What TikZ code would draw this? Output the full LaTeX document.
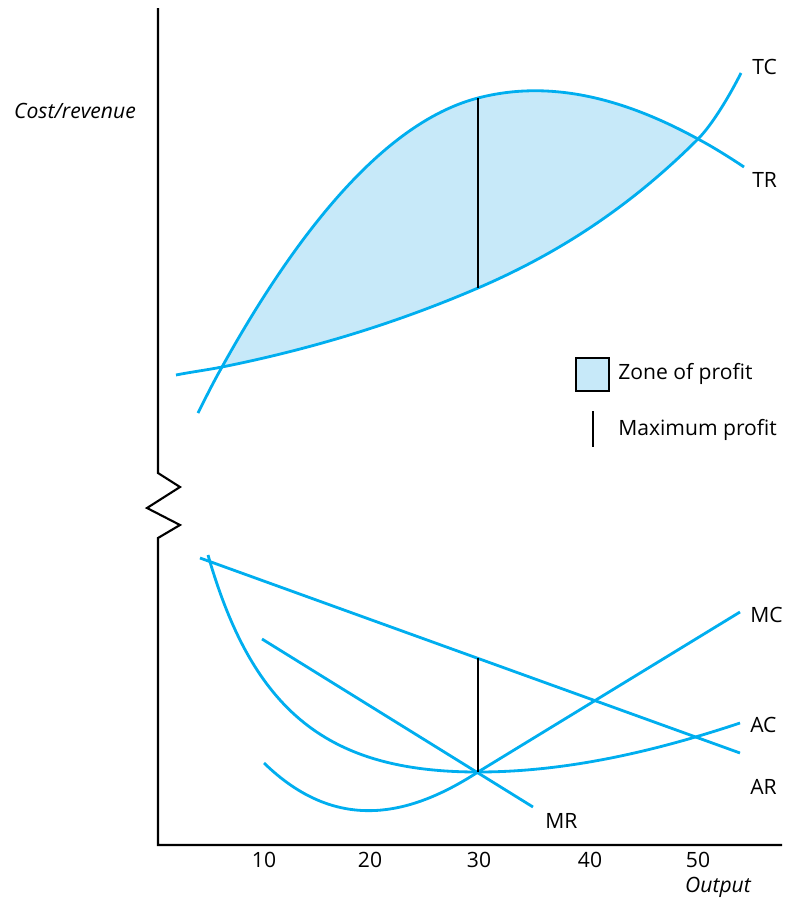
\documentclass[tikz,border=0pt]{standalone}
\usepackage{fontspec}
\setmainfont{Open Sans}
\usetikzlibrary{positioning}

\definecolor{curveblue}{RGB}{0,174,239}
\definecolor{zonefill}{RGB}{199,233,249}

\begin{document}
\begin{tikzpicture}[x=0.025cm, y=-0.025cm,
                curve/.style={draw=curveblue, line width=2pt},
                maxline/.style={draw=black, line width=2pt},
                axis/.style={draw=black, line width=1.5pt, line join=miter},
                lbl/.style={anchor=west, inner sep=0pt, font=\fontsize{15}{18}\selectfont},
                ticklbl/.style={inner sep=0pt, font=\fontsize{15}{18}\selectfont},
                axlbl/.style={inner sep=0pt, font=\fontsize{15}{18}\selectfont\itshape}
                ]
  \useasboundingbox (0,0) rectangle (785,901);

  % axes with the break
  \coordinate (ytop) at (158,8);
  \coordinate (o) at (158,845);
  \coordinate (xend) at (782,845);
  \draw[axis] (ytop) -- (158,473) -- (180,487) -- (147,508) -- (180,525) -- (158,538) -- (o) -- (xend);

  % upper panel: TR and TC
  \coordinate (p1) at (222,367);
  \coordinate (p2) at (698,139);
  \coordinate (m)  at (478,98);
  \coordinate (q)  at (478,288);

  \fill[zonefill] (p1) .. controls (307,214) and (393,120) .. (m)
                       .. controls (551,79) and (625,99) .. (p2)
                       .. controls (625,212) and (551,256.6) .. (q)
                       .. controls (393,324.6) and (307,350) .. (p1) -- cycle;

  \draw[curve] (198,413) .. controls (206,397) and (214,381) .. (p1)
               .. controls (307,214) and (393,120) .. (m)
               .. controls (551,79) and (625,99) .. (p2)
               .. controls (713,147) and (729,157) .. (744,167);
  \draw[curve] (176,375) .. controls (191,372) and (207,370) .. (p1)
               .. controls (307,350) and (393,324.6) .. (q)
               .. controls (551,256.6) and (625,212) .. (p2)
               .. controls (713,124) and (731,93) .. (741,73);
  \draw[maxline] (m) -- (q);

  \node[lbl] (tc) at (752,67) {TC};
  \node[lbl] (tr) at (752,180) {TR};

  % legend
  \node[draw=black, line width=1.5pt, fill=zonefill, minimum size=33*0.025cm, inner sep=0pt] (zbox) at (592.5,374.5) {};
  \node[lbl] (zlbl) at (618,374) {Zone of profit};
  \coordinate (mtop) at (593,411);
  \coordinate (mbot) at (593,447);
  \draw[maxline] (mtop) -- (mbot);
  \node[lbl] (mlbl) at (618,430) {Maximum profit};

  % lower panel
  \coordinate (k) at (478,772);
  \coordinate (arend) at (740,753);
  \coordinate (mrend) at (533,807);
  \coordinate (mcend) at (740,612);
  \draw[curve] (200,558) -- (arend);
  \draw[curve] (262,639) -- (mrend);
  \draw[curve] (264,763) .. controls (335,832) and (407,818) .. (k) -- (mcend);
  \draw[curve] (208,555) .. controls (253,712) and (328,772) .. (k)
               .. controls (565,772) and (653,752) .. (740,723);
  \coordinate (artop) at (478,658.4);
  \draw[maxline] (artop) -- (k);

  \node[lbl] (mc) at (750,615) {MC};
  \node[lbl] (ac) at (750,725) {AC};
  \node[lbl] (ar) at (750,787) {AR};
  \node[lbl] (mr) at (545,821) {MR};

  % axis labels
  \foreach \v/\x in {10/264,20/370,30/479,40/590,50/698}
    \node[ticklbl] (t\v) at (\x,860) {\v};
  \node[axlbl] (xlbl) at (718,887) {Output};
  \node[axlbl] (ylbl) at (75,111) {Cost/revenue};
\end{tikzpicture}
\end{document}
